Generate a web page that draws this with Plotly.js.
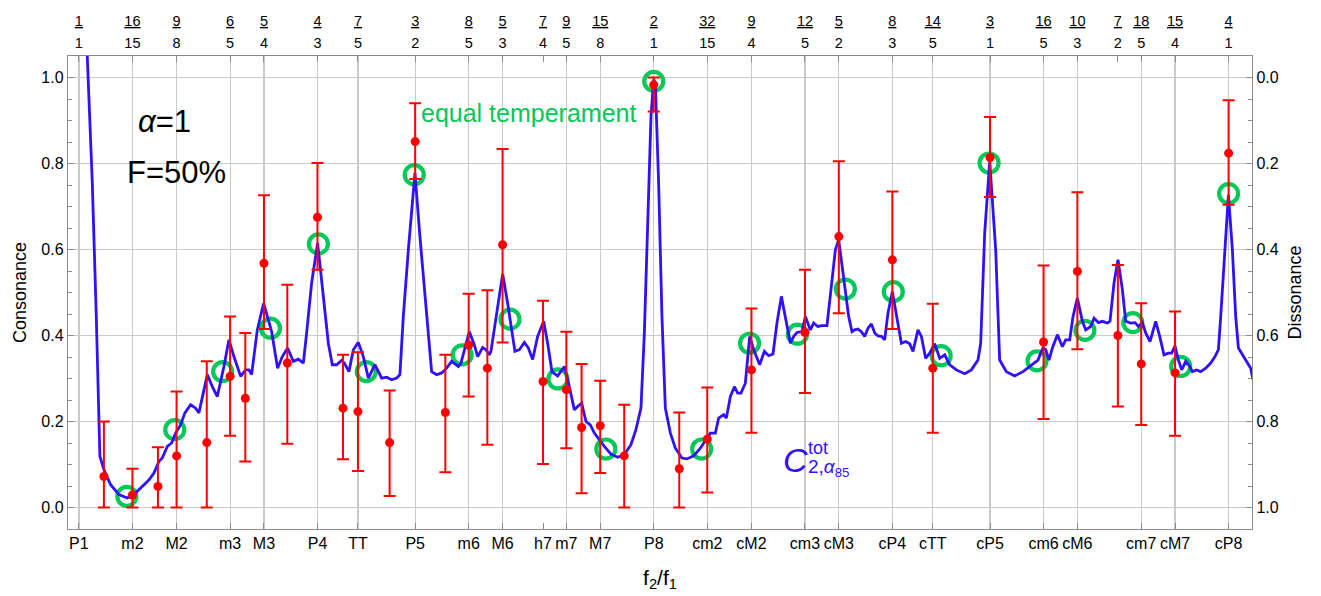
<!DOCTYPE html>
<html>
<head>
<meta charset="utf-8">
<script src="https://cdn.plot.ly/plotly-3.0.1.min.js"></script>
<style>html,body{margin:0;padding:0;background:#fff;}#chart{width:1321px;height:596px;}</style>
</head>
<body>
<div id="chart"></div>
<script>
// ---- tick data ----
const bottomRatios = [1, 16/15, 9/8, 6/5, 5/4, 4/3, 7/5, 3/2, 8/5, 5/3, 7/4, 9/5, 15/8, 2, 32/15, 9/4, 12/5, 5/2, 8/3, 14/5, 3, 16/5, 10/3, 18/5, 15/4, 4];
const bottomLabels = ['P1','m2','M2','m3','M3','P4','TT','P5','m6','M6','h7','m7','M7','P8','cm2','cM2','cm3','cM3','cP4','cTT','cP5','cm6','cM6','cm7','cM7','cP8'];
const topNum = [1,16,9,6,5,4,7,3,8,5,7,9,15,2,32,9,12,5,8,14,3,16,10,7,18,15,4];
const topDen = [1,15,8,5,4,3,5,2,5,3,4,5,8,1,15,4,5,2,3,5,1,5,3,2,5,4,1];
const noGridRatios = [7/4, 7/2];

// ---- measured consonance (red points with error bars) ----
const expRatio = [1.0306, 1.0667, 1.1, 1.125, 1.1667, 1.2, 1.2222, 1.25, 1.2857, 1.3333, 1.375, 1.4, 1.4545, 1.5, 1.5556, 1.6, 1.6364, 1.6667, 1.75, 1.8, 1.8333, 1.875, 1.93, 2.0, 2.0625, 2.1333, 2.25, 2.4, 2.5, 2.6667, 2.8, 3.0, 3.2, 3.3333, 3.5, 3.6, 3.75, 4.0];
const expMean  = [0.072, 0.029, 0.049, 0.120, 0.151, 0.305, 0.254, 0.568, 0.336, 0.675, 0.231, 0.223, 0.151, 0.851, 0.221, 0.378, 0.324, 0.611, 0.293, 0.274, 0.186, 0.190, 0.120, 0.983, 0.090, 0.159, 0.320, 0.407, 0.630, 0.576, 0.324, 0.814, 0.385, 0.549, 0.400, 0.334, 0.313, 0.824];
const expUpper = [0.200, 0.090, 0.140, 0.270, 0.340, 0.444, 0.406, 0.726, 0.518, 0.801, 0.355, 0.361, 0.272, 0.940, 0.355, 0.497, 0.505, 0.834, 0.481, 0.409, 0.334, 0.295, 0.239, 1.000, 0.221, 0.279, 0.463, 0.553, 0.805, 0.735, 0.474, 0.908, 0.563, 0.733, 0.564, 0.475, 0.456, 0.947];
const expLower = [0.000, 0.000, 0.000, 0.000, 0.000, 0.167, 0.107, 0.415, 0.148, 0.553, 0.112, 0.085, 0.027, 0.764, 0.082, 0.258, 0.146, 0.384, 0.101, 0.138, 0.033, 0.080, 0.000, 0.921, 0.000, 0.035, 0.174, 0.266, 0.452, 0.415, 0.174, 0.722, 0.206, 0.368, 0.235, 0.192, 0.167, 0.704];

// ---- equal temperament (green circles) ----
const etRatio = [1.0595, 1.1225, 1.1892, 1.2599, 1.3348, 1.4142, 1.4983, 1.5874, 1.6818, 1.7818, 1.8877, 2.0, 2.1189, 2.2449, 2.3784, 2.5198, 2.6697, 2.8284, 2.9966, 3.1748, 3.3636, 3.5636, 3.7755, 4.0];
const etValue = [0.026, 0.181, 0.316, 0.417, 0.613, 0.316, 0.774, 0.355, 0.438, 0.299, 0.136, 0.991, 0.136, 0.382, 0.403, 0.508, 0.502, 0.353, 0.801, 0.341, 0.412, 0.430, 0.328, 0.730];

// ---- model curve C_tot (x in semitones above f1) ----
const curveSemitones = [0.10,0.175,0.280,0.363,0.418,0.438,0.522,0.662,0.835,1.010,1.148,1.288,1.461,1.566,1.670,1.741,1.846,1.935,2.019,2.123,2.213,2.332,2.436,2.505,2.589,2.681,2.785,2.889,3.027,3.132,3.236,3.376,3.480,3.549,3.605,3.724,3.856,4.023,4.148,4.246,4.357,4.476,4.580,4.685,4.754,4.858,4.983,5.102,5.207,5.290,5.380,5.484,5.541,5.637,5.729,5.833,5.937,6.042,6.180,6.319,6.424,6.528,6.633,6.701,6.772,6.877,7.015,7.119,7.259,7.363,7.468,7.572,7.676,7.781,7.921,7.975,8.150,8.255,8.324,8.428,8.497,8.568,8.601,8.727,8.846,8.950,9.054,9.102,9.194,9.299,9.382,9.472,9.576,9.701,9.785,9.875,9.994,10.063,10.134,10.238,10.342,10.411,10.495,10.585,10.676,10.760,10.864,10.969,11.106,11.246,11.386,11.524,11.628,11.733,11.804,11.873,11.942,11.998,12.033,12.102,12.171,12.242,12.347,12.451,12.589,12.693,12.833,12.973,13.077,13.182,13.286,13.355,13.459,13.516,13.599,13.683,13.752,13.820,13.912,14.002,14.086,14.211,14.309,14.399,14.489,14.572,14.664,14.747,14.852,14.921,14.990,15.094,15.165,15.269,15.338,15.422,15.511,15.616,15.687,15.791,15.860,15.965,16.069,16.138,16.194,16.263,16.334,16.403,16.472,16.543,16.612,16.681,16.752,16.820,16.889,16.981,17.065,17.169,17.259,17.342,17.411,17.516,17.587,17.676,17.760,17.864,17.969,18.073,18.177,18.317,18.491,18.630,18.768,18.825,18.908,19.013,19.138,19.221,19.361,19.534,19.708,19.883,20.021,20.092,20.125,20.182,20.251,20.322,20.426,20.530,20.599,20.683,20.752,20.843,20.948,21.017,21.121,21.190,21.282,21.365,21.470,21.524,21.608,21.691,21.783,21.852,21.956,22.046,22.117,22.200,22.269,22.359,22.478,22.562,22.651,22.743,22.812,22.881,22.952,23.021,23.104,23.188,23.244,23.328,23.417,23.522,23.626,23.716,23.787,23.835,23.919,23.996,24.079,24.148,24.205,24.288,24.392,24.461,24.509];
const curveConsonance = [1.26,1.049,0.754,0.444,0.212,0.119,0.088,0.053,0.030,0.022,0.030,0.045,0.064,0.080,0.107,0.115,0.142,0.150,0.173,0.192,0.220,0.239,0.231,0.220,0.266,0.309,0.281,0.258,0.328,0.390,0.351,0.305,0.320,0.320,0.309,0.413,0.475,0.409,0.324,0.351,0.371,0.340,0.345,0.336,0.406,0.522,0.615,0.491,0.382,0.332,0.332,0.342,0.336,0.316,0.367,0.384,0.351,0.301,0.332,0.301,0.303,0.297,0.301,0.309,0.444,0.599,0.778,0.630,0.444,0.316,0.309,0.313,0.324,0.340,0.328,0.336,0.409,0.378,0.351,0.372,0.367,0.355,0.363,0.460,0.543,0.475,0.390,0.363,0.367,0.384,0.371,0.344,0.398,0.433,0.382,0.316,0.306,0.316,0.328,0.281,0.227,0.235,0.243,0.200,0.192,0.173,0.157,0.142,0.124,0.117,0.123,0.146,0.181,0.231,0.406,0.677,0.909,0.995,0.987,0.754,0.444,0.231,0.173,0.138,0.115,0.113,0.120,0.138,0.157,0.173,0.173,0.208,0.216,0.208,0.258,0.281,0.266,0.266,0.289,0.398,0.367,0.332,0.363,0.353,0.357,0.429,0.491,0.444,0.382,0.398,0.407,0.409,0.444,0.413,0.429,0.421,0.423,0.423,0.499,0.599,0.623,0.537,0.444,0.409,0.413,0.415,0.409,0.398,0.417,0.427,0.406,0.399,0.398,0.390,0.452,0.502,0.452,0.382,0.386,0.381,0.363,0.413,0.398,0.347,0.359,0.381,0.347,0.355,0.332,0.320,0.311,0.320,0.343,0.382,0.638,0.805,0.599,0.343,0.316,0.306,0.316,0.332,0.343,0.363,0.371,0.367,0.343,0.371,0.402,0.374,0.390,0.390,0.444,0.487,0.433,0.413,0.421,0.440,0.430,0.433,0.429,0.433,0.522,0.576,0.506,0.433,0.429,0.430,0.421,0.430,0.406,0.386,0.433,0.398,0.355,0.359,0.359,0.376,0.343,0.320,0.340,0.328,0.316,0.320,0.316,0.324,0.336,0.351,0.367,0.444,0.599,0.727,0.599,0.444,0.371,0.355,0.336,0.324,0.297];

// ---- derived ----
const curveRatio = curveSemitones.map(s => Math.pow(2, s / 12));
const topRatios = topNum.map((n, i) => n / topDen[i]);
const topText = topNum.map((n, i) =>
  '<span style="font-size:14.5px"><u>' + n + '</u></span><br><span style="font-size:14.5px">' + topDen[i] + '</span>');
const gridRatios = topRatios.filter(r => !noGridRatios.some(g => Math.abs(g - r) < 1e-9));
const errPlus = expUpper.map((u, i) => +(u - expMean[i]).toFixed(4));
const errMinus = expLower.map((l, i) => +(expMean[i] - l).toFixed(4));
const expDiss = expMean.map(v => 1 - v);

const FONT = 'Liberation Sans, Arial, sans-serif';
const XR = [-0.005708, 0.61431];
const YR = [-0.05, 1.05];
const GRAY = '#8c8c8c';
const GREEN = '#00c957';
const BLUE = '#3010ff';

const traces = [
  // hidden helpers so overlay axes are drawn
  {x: expRatio, y: expMean, xaxis: 'x3', yaxis: 'y', mode: 'markers', marker: {opacity: 0}, hoverinfo: 'skip', showlegend: false},
  {x: expRatio, y: expMean, xaxis: 'x2', yaxis: 'y', mode: 'markers', marker: {opacity: 0}, hoverinfo: 'skip', showlegend: false},
  {x: expRatio, y: expDiss, xaxis: 'x', yaxis: 'y2', mode: 'markers', marker: {opacity: 0}, hoverinfo: 'skip', showlegend: false},
  // equal temperament circles
  {x: etRatio, y: etValue, xaxis: 'x', yaxis: 'y', mode: 'markers', name: 'equal temperament',
   marker: {symbol: 'circle-open', size: 19, color: GREEN, line: {width: 4.2, color: GREEN}}, cliponaxis: false},
  // model curve
  {x: curveRatio, y: curveConsonance, xaxis: 'x', yaxis: 'y', mode: 'lines', name: 'C tot',
   line: {color: BLUE, width: 2.8}},
  // experimental
  {x: expRatio, y: expMean, xaxis: 'x', yaxis: 'y', mode: 'markers', name: 'experiment',
   marker: {size: 9, color: '#ff0000'},
   error_y: {type: 'data', symmetric: false, array: errPlus, arrayminus: errMinus, color: '#ff0000', thickness: 2, width: 6}}
];

const baseX = {type: 'log', range: XR, zeroline: false, fixedrange: true};
const layout = {
  width: 1321, height: 596,
  margin: {l: 68, r: 69, t: 56, b: 67, pad: 0},
  paper_bgcolor: '#fff', plot_bgcolor: '#fff',
  showlegend: false,
  font: {family: FONT, color: '#000', size: 16},
  xaxis: Object.assign({}, baseX, {
    tickmode: 'array', tickvals: bottomRatios, ticktext: bottomLabels,
    ticks: 'inside', ticklen: 6, tickwidth: 1, tickcolor: GRAY,
    showgrid: false, showline: true, linecolor: GRAY, linewidth: 1.2,
    tickfont: {family: FONT, size: 16, color: '#000'},
    title: {text: 'f<sub>2</sub>/f<sub>1</sub>', font: {family: FONT, size: 21, color: '#000'}, standoff: 18}
  }),
  xaxis2: Object.assign({}, baseX, {
    overlaying: 'x', side: 'top', anchor: 'y',
    tickmode: 'array', tickvals: topRatios, ticktext: topText,
    ticks: 'inside', ticklen: 6, tickwidth: 1, tickcolor: GRAY,
    showgrid: false, showline: true, linecolor: GRAY, linewidth: 1.2,
    tickfont: {family: FONT, size: 17, color: '#000'}
  }),
  xaxis3: Object.assign({}, baseX, {
    overlaying: 'x', anchor: 'y',
    tickmode: 'array', tickvals: gridRatios, showticklabels: false, ticks: '',
    showgrid: true, gridcolor: '#cacaca', gridwidth: 1.2, showline: false
  }),
  yaxis: {
    range: YR, fixedrange: true, zeroline: false,
    tickmode: 'array', tickvals: [0, 0.2, 0.4, 0.6, 0.8, 1.0], tickformat: '.1f',
    ticks: 'inside', ticklen: 6, tickwidth: 1, tickcolor: GRAY,
    minor: {dtick: 0.05, tick0: 0, ticks: 'inside', ticklen: 4, tickcolor: GRAY, showgrid: false},
    showgrid: true, gridcolor: '#cacaca', gridwidth: 1.2,
    showline: true, linecolor: GRAY, linewidth: 1.2,
    tickfont: {family: FONT, size: 16, color: '#000'},
    title: {text: 'Consonance', font: {family: FONT, size: 18, color: '#000'}, standoff: 10}
  },
  yaxis2: {
    overlaying: 'y', side: 'right', anchor: 'x',
    range: [1.05, -0.05], fixedrange: true, zeroline: false,
    tickmode: 'array', tickvals: [0, 0.2, 0.4, 0.6, 0.8, 1.0], tickformat: '.1f',
    ticks: 'inside', ticklen: 6, tickwidth: 1, tickcolor: GRAY,
    minor: {dtick: 0.05, tick0: 0, ticks: 'inside', ticklen: 4, tickcolor: GRAY, showgrid: false},
    showgrid: false, showline: true, linecolor: GRAY, linewidth: 1.2,
    tickfont: {family: FONT, size: 16, color: '#000'},
    title: {text: 'Dissonance', font: {family: FONT, size: 18, color: '#000'}, standoff: 10}
  },
  annotations: [
    {xref: 'paper', yref: 'paper', x: 0.0818, y: 0.861, text: '<i>α</i>=1', showarrow: false,
     font: {family: FONT, size: 31, color: '#000'}, xanchor: 'center', yanchor: 'middle'},
    {xref: 'paper', yref: 'paper', x: 0.0917, y: 0.754, text: 'F=50%', showarrow: false,
     font: {family: FONT, size: 31, color: '#000'}, xanchor: 'center', yanchor: 'middle'},
    {xref: 'paper', yref: 'paper', x: 0.389, y: 0.879, text: 'equal temperament', showarrow: false,
     font: {family: FONT, size: 25, color: GREEN}, xanchor: 'center', yanchor: 'middle'},
    {xref: 'paper', yref: 'paper', x: 0.6144, y: 0.1464, text: '<i>C</i>', showarrow: false,
     font: {family: FONT, size: 34, color: BLUE}, xanchor: 'center', yanchor: 'middle'},
    {xref: 'paper', yref: 'paper', x: 0.623, y: 0.1718, text: 'tot', showarrow: false,
     font: {family: FONT, size: 18, color: BLUE}, xanchor: 'left', yanchor: 'middle'},
    {xref: 'paper', yref: 'paper', x: 0.623, y: 0.130, text: '2,<i>α</i><sub>85</sub>', showarrow: false,
     font: {family: FONT, size: 19, color: BLUE}, xanchor: 'left', yanchor: 'middle'}
  ]
};

Plotly.newPlot('chart', traces, layout, {staticPlot: true, displayModeBar: false});
</script>
</body>
</html>
